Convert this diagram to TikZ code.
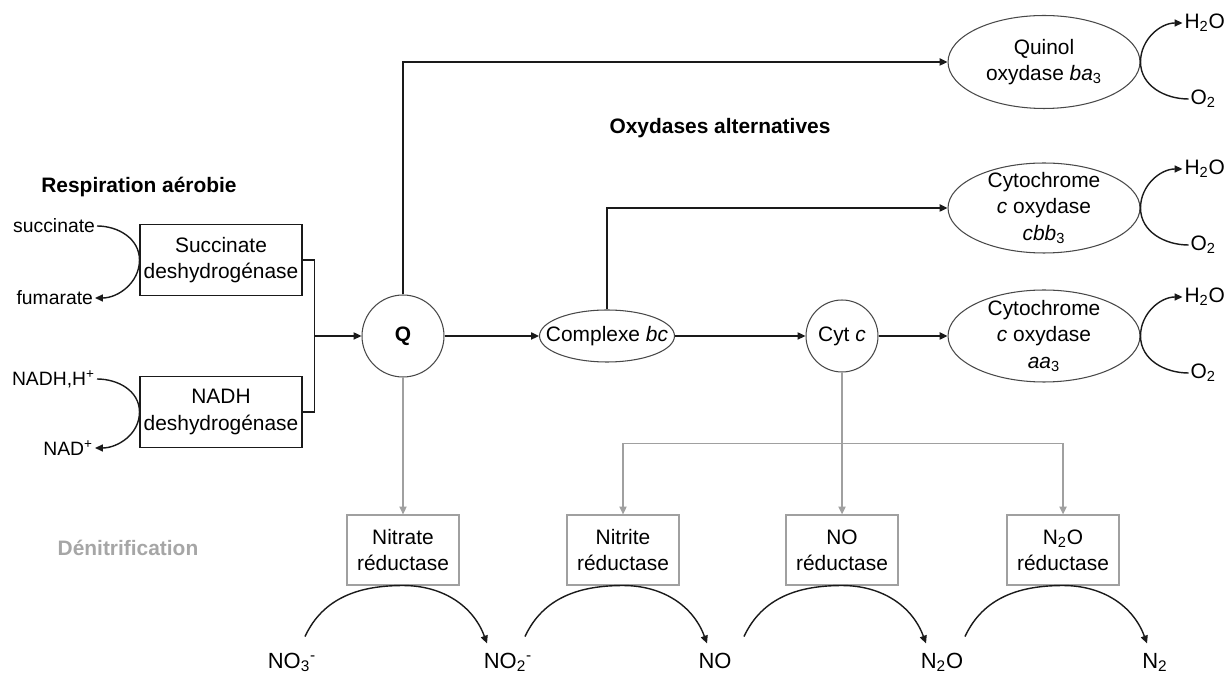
\documentclass[tikz,border=0pt]{standalone}
\usepackage{fontspec}
\setmainfont{Liberation Sans}
\usetikzlibrary{arrows.meta}
\usetikzlibrary{shapes.geometric}

\definecolor{darkline}{HTML}{1A1A1A}
\definecolor{greyline}{HTML}{A0A0A0}
\definecolor{greytext}{HTML}{A6A6A6}

\begin{document}
\begin{tikzpicture}[x=0.02cm, y=0.02cm,
  txt/.style={font=\fontsize{11.9}{15}\selectfont, inner sep=1pt},
  sublabel/.style={font=\fontsize{11}{13}\selectfont, inner sep=1pt},
  chem/.style={font=\fontsize{12.5}{14}\selectfont, inner sep=1pt},
  heading/.style={font=\fontsize{11.9}{14}\selectfont\bfseries},
  enzyme/.style={draw=darkline, line width=0.6pt, minimum width=3.24cm, minimum height=1.42cm, txt, align=center},
  reductase/.style={draw=greyline, line width=0.6pt, minimum width=2.24cm, minimum height=1.4cm, txt, align=center},
  pool/.style={circle, draw=darkline!80, line width=0.6pt, inner sep=0pt},
  oval/.style={ellipse, draw=darkline!80, line width=0.6pt, inner sep=0pt},
  link/.style={draw=darkline, line width=1.1pt},
  flow/.style={link, -{Triangle[length=4.5pt,width=4pt]}},
  gline/.style={draw=greyline, line width=1.1pt},
  gflow/.style={gline, -{Triangle[length=4.5pt,width=4pt]}},
  reac/.style={draw=darkline, line width=0.8pt, -{Triangle[length=4.5pt,width=4pt]}},
]
  % keep the page at the size of the original figure
  \useasboundingbox (0,0) rectangle (1224,673);

  % headings
  \node[heading] (aerob) at (139,486) {Respiration aérobie};
  \node[heading] (altox) at (720,545) {Oxydases alternatives};
  \node[heading, text=greytext] (denit) at (128,125) {Dénitrification};

  % dehydrogenases and their substrates
  \node[enzyme] (sdh) at (221,413) {Succinate\\deshydrogénase};
  \node[enzyme] (ndh) at (221,261) {NADH\\deshydrogénase};
  \node[sublabel, anchor=east] (succ) at (97,447) {succinate};
  \node[sublabel, anchor=east] (fum) at (95,375) {fumarate};
  \node[sublabel, anchor=east] (nadh) at (97,294) {NADH,H\textsuperscript{+}};
  \node[sublabel, anchor=east] (nad) at (95,225) {NAD\textsuperscript{+}};
  \draw[reac] (succ.east) to[out=0,in=90] (sdh.west) to[out=-90,in=0] (fum.east);
  \draw[reac] (nadh.east) to[out=0,in=90] (ndh.west) to[out=-90,in=0] (nad.east);

  % quinone pool, bc complex, cytochrome c
  \node[pool, minimum size=1.64cm, font=\fontsize{11.9}{14}\selectfont\bfseries] (Q) at (403,337) {Q};
  \node[oval, minimum width=2.7cm, minimum height=1.04cm] (bc) at (607,337) {};
  \node[txt] (bc-t) at (bc) {Complexe \textit{bc}};
  \node[pool, minimum size=1.44cm, txt] (cytc) at (842,337) {Cyt \textit{c}};

  % terminal oxidases
  \node[oval, minimum width=3.84cm, minimum height=1.86cm] (ba3) at (1044,611) {};
  \node[txt, align=center] (ba3-t) at (ba3) {Quinol\\oxydase \textit{ba}\textsubscript{3}};
  \node[oval, minimum width=3.84cm, minimum height=1.8cm] (cbb3) at (1044,465) {};
  \node[txt, align=center] (cbb3-t) at (cbb3) {Cytochrome\\\textit{c} oxydase\\\textit{cbb}\textsubscript{3}};
  \node[oval, minimum width=3.84cm, minimum height=1.84cm] (aa3) at (1044,337) {};
  \node[txt, align=center] (aa3-t) at (aa3) {Cytochrome\\\textit{c} oxydase\\\textit{aa}\textsubscript{3}};

  % O2 -> H2O on each oxidase
  \foreach \ox in {ba3, cbb3, aa3} {
    \node[txt, anchor=west] (w-\ox) at ([shift={(42,39)}]\ox.east) {H\textsubscript{2}O};
    \node[txt, anchor=west] (o-\ox) at ([shift={(48,-37)}]\ox.east) {O\textsubscript{2}};
    \draw[reac] (o-\ox.west) to[out=180,in=-90] (\ox.east) to[out=90,in=180] (w-\ox.west);
  }

  % aerobic electron flow
  \draw[link] (sdh.east) -- ++(12,0) |- (ndh.east);
  \coordinate (merge) at (314,337);
  \draw[flow] (merge) -- (Q);
  \draw[flow] (Q) -- (bc);
  \draw[flow] (bc) -- (cytc);
  \draw[flow] (cytc) -- (aa3);
  \draw[flow] (Q.north) |- (ba3.west);
  \draw[flow] (bc.north) |- (cbb3.west);

  % denitrification reductases
  \node[reductase] (nar) at (403,123) {Nitrate\\réductase};
  \node[reductase] (nir) at (623,123) {Nitrite\\réductase};
  \node[reductase] (nor) at (842,123) {NO\\réductase};
  \node[reductase] (nos) at (1063,123) {N\textsubscript{2}O\\réductase};

  \draw[gflow] (Q.south) -- (nar.north);
  \draw[gline] (cytc.south) -- ++(0,-71) coordinate (fork);
  \draw[gflow] (fork) -| (nir.north);
  \draw[gflow] (fork) -| (nos.north);
  \draw[gflow] (fork) -- (nor.north);

  % nitrogen oxides
  \node[chem, anchor=base] (no3) at (292,5) {NO\textsubscript{3}\textsuperscript{-}};
  \node[chem, anchor=base] (no2) at (508,5) {NO\textsubscript{2}\textsuperscript{-}};
  \node[chem, anchor=base] (no) at (715,5) {NO};
  \node[chem, anchor=base] (n2o) at (942,5) {N\textsubscript{2}O};
  \node[chem, anchor=base] (n2) at (1155,5) {N\textsubscript{2}};
  \foreach \red in {nar, nir, nor, nos}
    \draw[reac] ([shift={(-98,-51)}]\red.south) to[out=65,in=180] (\red.south) to[out=0,in=110] ([shift={(84,-58)}]\red.south);
\end{tikzpicture}
\end{document}
